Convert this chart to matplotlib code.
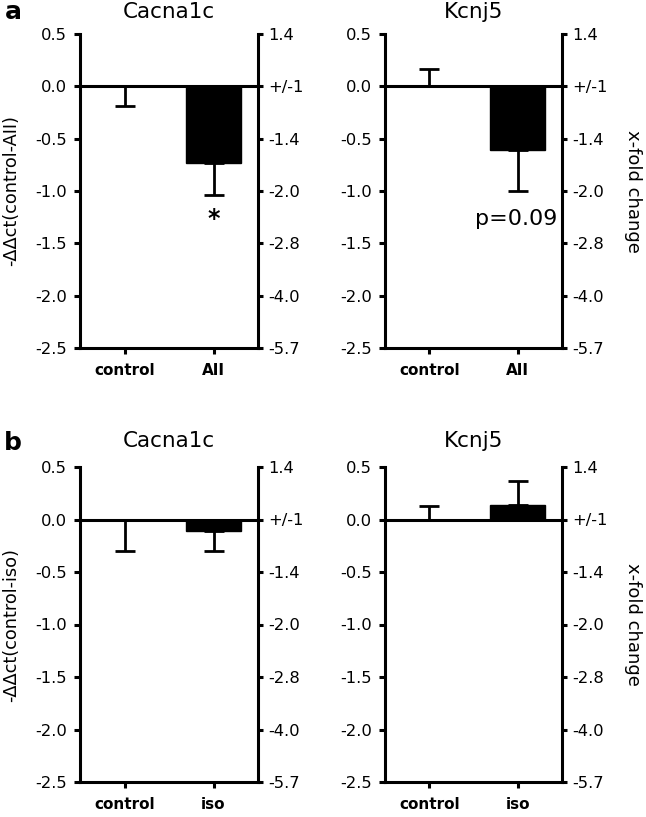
import matplotlib
matplotlib.use("Agg")
import matplotlib.pyplot as plt

plt.rcParams['font.family'] = ['DejaVu Sans']

# --- data ---
groups_a = ["control", "AII"]
groups_b = ["control", "iso"]

cacna1c_a = [0.0, -0.73]
cacna1c_a_lo = [0.19, 0.31]   # error below the mean
cacna1c_a_hi = [0.0, 0.0]     # error above the mean

kcnj5_a = [0.0, -0.61]
kcnj5_a_lo = [0.0, 0.39]
kcnj5_a_hi = [0.17, 0.0]

cacna1c_b = [0.0, -0.11]
cacna1c_b_lo = [0.30, 0.19]
cacna1c_b_hi = [0.0, 0.0]

kcnj5_b = [0.0, 0.14]
kcnj5_b_lo = [0.0, 0.0]
kcnj5_b_hi = [0.13, 0.23]

left_ticks = [0.5, 0.0, -0.5, -1.0, -1.5, -2.0, -2.5]
left_labels = ["0.5", "0.0", "-0.5", "-1.0", "-1.5", "-2.0", "-2.5"]
fold_labels = ["1.4", "+/-1", "-1.4", "-2.0", "-2.8", "-4.0", "-5.7"]

W, H = 646, 817
fig = plt.figure(figsize=(W / 100, H / 100), dpi=100)

LW = 2.2
TICK_FS = 11.8


def px_axes(x0, x1, ytop, ybot):
    return fig.add_axes([x0 / W, 1 - ybot / H, (x1 - x0) / W, (ybot - ytop) / H])


def draw_panel(ax, title, title_off, groups, vals, lo, hi, ylabel=None, right_label=False):
    x = list(range(len(groups)))
    ax.bar(x, vals, width=0.62, color="black", edgecolor="black", zorder=2)
    ax.errorbar(x, vals, yerr=[lo, hi], fmt="none", ecolor="black",
                elinewidth=2, capsize=7.5, capthick=2, zorder=1)
    ax.axhline(0, color="black", lw=LW, zorder=3)
    ax.set_xlim(-0.5, 1.5)
    ax.set_ylim(-2.5, 0.5)
    ax.set_yticks(left_ticks)
    ax.set_yticklabels(left_labels)
    ax.set_xticks(x)
    ax.set_xticklabels(groups, fontweight="bold", fontsize=11)
    for s in ["top", "right"]:
        ax.spines[s].set_visible(False)
    for s in ["left", "bottom"]:
        ax.spines[s].set_linewidth(LW)
    ax.tick_params(axis="y", direction="out", length=4.5, width=LW, labelsize=TICK_FS, pad=5)
    ax.tick_params(axis="x", direction="out", length=4, width=LW, pad=7)
    ax.text(0.5, 1 + title_off / 314, title, transform=ax.transAxes,
            ha="center", va="center", fontsize=15.5)
    if ylabel:
        ax.set_ylabel(ylabel, fontsize=12.8, va="center")
        ax.yaxis.set_label_coords(-0.385, 0.5)

    ax2 = ax.twinx()
    ax2.set_ylim(-2.5, 0.5)
    ax2.set_yticks(left_ticks)
    ax2.set_yticklabels(fold_labels)
    for s in ["top", "left", "bottom"]:
        ax2.spines[s].set_visible(False)
    ax2.spines["right"].set_linewidth(LW)
    ax2.tick_params(axis="y", direction="out", length=3.6, width=LW, labelsize=TICK_FS, pad=4)
    if right_label:
        ax2.set_ylabel("x-fold change", fontsize=13, rotation=270, va="center")
        ax2.yaxis.set_label_coords(1.40, 0.5)
    return ax


# panel a
ax1 = px_axes(80, 258, 34, 348)
draw_panel(ax1, "Cacna1c", 21.5, groups_a, cacna1c_a, cacna1c_a_lo, cacna1c_a_hi,
           ylabel="-ΔΔct(control-AII)")
ax1.text(1, -1.27, "*", ha="center", va="center", fontsize=17, fontweight="bold")

ax2 = px_axes(385, 562, 34, 348)
draw_panel(ax2, "Kcnj5", 21.5, groups_a, kcnj5_a, kcnj5_a_lo, kcnj5_a_hi, right_label=True)
ax2.text(0.985, -1.27, "p=0.09", ha="center", va="center", fontsize=16, zorder=5)

# panel b
ax3 = px_axes(80, 258, 467, 782)
draw_panel(ax3, "Cacna1c", 25.5, groups_b, cacna1c_b, cacna1c_b_lo, cacna1c_b_hi,
           ylabel="-ΔΔct(control-iso)")

ax4 = px_axes(385, 562, 467, 782)
draw_panel(ax4, "Kcnj5", 25.5, groups_b, kcnj5_b, kcnj5_b_lo, kcnj5_b_hi, right_label=True)

fig.text(13 / W, 1 - 12 / H, "a", ha="center", va="center", fontsize=18, fontweight="bold")
fig.text(13 / W, 1 - 443 / H, "b", ha="center", va="center", fontsize=18, fontweight="bold")

fig.savefig("out.png", dpi=100)
